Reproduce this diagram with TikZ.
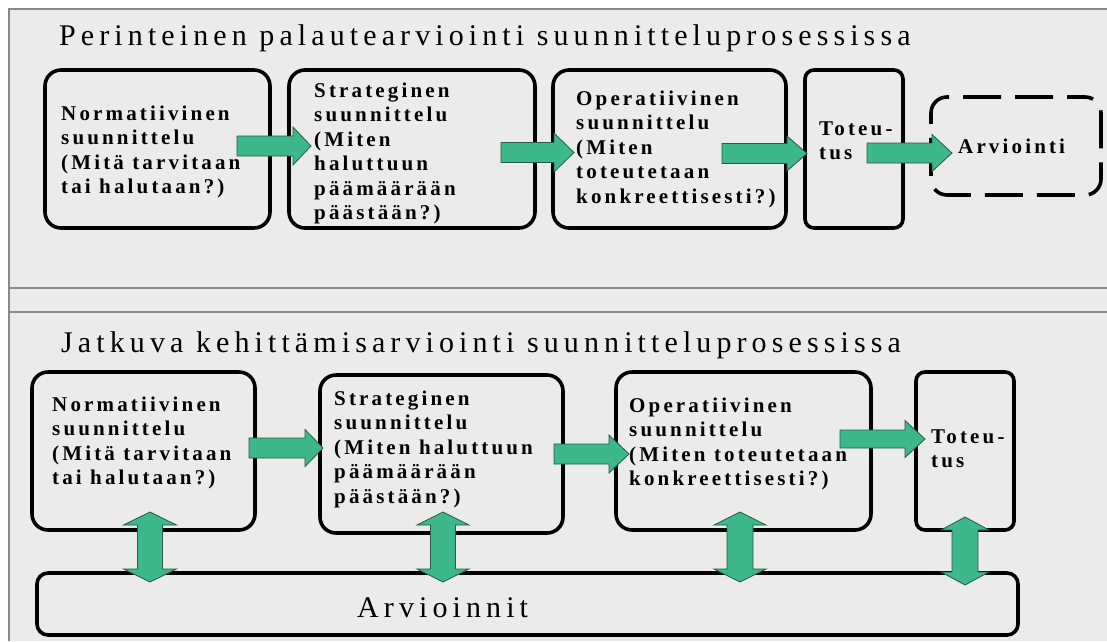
\documentclass[tikz,border=0pt]{standalone}
\usepackage{fontspec}
\setmainfont{Liberation Serif}
\newfontfamily\headfont[LetterSpace=17]{Liberation Serif}
\newfontfamily\stepfont[LetterSpace=15]{Liberation Serif}
\usetikzlibrary{calc}

\definecolor{panelgray}{RGB}{235,235,235}
\definecolor{framegray}{RGB}{138,138,138}
\definecolor{arrowgreen}{RGB}{60,184,138}
\definecolor{arrowedge}{RGB}{40,90,70}

% left-aligned block of lines whose reference point is the first baseline
\newcommand\textlines[1]{\begin{tabular}[t]{@{}l@{}}#1\end{tabular}}

% horizontal block arrow: tail x, tip x, centre y, shaft half, head half, head length
\newcommand\blockarrowH[6]{%
  \filldraw[arrowstyle] (#1,{#3-#4}) -- ({#2-#6},{#3-#4}) -- ({#2-#6},{#3-#5})
    -- (#2,#3) -- ({#2-#6},{#3+#5}) -- ({#2-#6},{#3+#4}) -- (#1,{#3+#4}) -- cycle;}

% vertical double block arrow: centre x, top y, bottom y, shaft half, head half, head length
\newcommand\blockarrowV[6]{%
  \filldraw[arrowstyle] (#1,#2) -- ({#1+#5},{#2+#6}) -- ({#1+#4},{#2+#6})
    -- ({#1+#4},{#3-#6}) -- ({#1+#5},{#3-#6}) -- (#1,#3) -- ({#1-#5},{#3-#6})
    -- ({#1-#4},{#3-#6}) -- ({#1-#4},{#2+#6}) -- ({#1-#5},{#2+#6}) -- cycle;}

\tikzset{
  arrowstyle/.style={fill=arrowgreen, draw=arrowedge, line width=0.8pt, line join=miter},
  stepbox/.style={draw=black, line width=3.6pt, rounded corners=16pt, inner sep=0pt},
  narrowbox/.style={stepbox, rounded corners=9pt},
  evalbox/.style={stepbox, rounded corners=11pt},
  dashbox/.style={stepbox, dash pattern=on 38pt off 14pt, dash phase=20pt},
  steptext/.style={anchor=base west, inner sep=0pt,
    font=\stepfont\bfseries\fontsize{21}{24.5}\selectfont},
  headtext/.style={anchor=base west, inner sep=0pt,
    font=\headfont\fontsize{30}{36}\selectfont}
}

\begin{document}
\begin{tikzpicture}[x=1pt, y=-1pt]
\useasboundingbox (0,0) rectangle (1107,641);

% background panels and their frame lines
\fill[panelgray] (9,9) rectangle (1107,641);
\draw[framegray, line width=1.6pt] (1107,9) -- (9,9) -- (9,641);
\draw[framegray, line width=1.6pt] (9,288) -- (1107,288);
\draw[framegray, line width=1.6pt] (9,312) -- (1107,312);

% ---------- upper panel ----------
\node[headtext] (titleA) at (59,45) {Perinteinen palautearviointi suunnitteluprosessissa};

\node[stepbox, minimum width=225pt, minimum height=158pt] (a1) at (157.5,149) {};
\node[stepbox, minimum width=246pt, minimum height=158pt] (a2) at (412,149) {};
\node[stepbox, minimum width=233pt, minimum height=158pt] (a3) at (669.5,149) {};
\node[narrowbox, minimum width=98pt, minimum height=158pt] (a4) at (854,149) {};
\node[dashbox, minimum width=170pt, minimum height=98pt] (a5) at (1016,146) {};

\node[steptext] (ta1) at (61,120) {\textlines{Normatiivinen\\suunnittelu\\(Mitä tarvitaan\\tai halutaan?)}};
\node[steptext] (ta2) at (314,97) {\textlines{Strateginen\\suunnittelu\\(Miten\\haluttuun\\päämäärään\\päästään?)}};
\node[steptext] (ta3) at (576,105) {\textlines{Operatiivinen\\suunnittelu\\(Miten\\toteutetaan\\konkreettisesti?)}};
\node[steptext] (ta4) at (819,135) {\textlines{Toteu-\\tus}};
\node[steptext] (ta5) at (958,153) {Arviointi};

\blockarrowH{237}{311}{146}{10}{19}{18}
\blockarrowH{501}{574}{152.5}{10}{19.5}{20}
\blockarrowH{722}{807}{153.5}{10}{17.5}{20}
\blockarrowH{867}{952}{153}{10}{18.5}{20}

% ---------- lower panel ----------
\node[headtext] (titleB) at (61,352) {Jatkuva kehittämisarviointi suunnitteluprosessissa};

\node[stepbox, minimum width=223pt, minimum height=158pt] (b1) at (143.5,451) {};
\node[stepbox, minimum width=243pt, minimum height=158pt] (b2) at (441.5,454) {};
\node[stepbox, minimum width=255pt, minimum height=158pt] (b3) at (743.5,451) {};
\node[narrowbox, minimum width=98pt, minimum height=158pt] (b4) at (965,451) {};
\node[evalbox, minimum width=981pt, minimum height=62pt] (b5) at (527.5,604) {};

\node[steptext] (tb1) at (52,411) {\textlines{Normatiivinen\\suunnittelu\\(Mitä tarvitaan\\tai halutaan?)}};
\node[steptext] (tb2) at (334,405) {\textlines{Strateginen\\suunnittelu\\(Miten haluttuun\\päämäärään\\päästään?)}};
\node[steptext] (tb3) at (629,412) {\textlines{Operatiivinen\\suunnittelu\\(Miten toteutetaan\\konkreettisesti?)}};
\node[steptext] (tb4) at (931,443) {\textlines{Toteu-\\tus}};
\node[headtext] (tb5) at (357,617) {Arvioinnit};

\blockarrowH{249}{323}{448}{10}{18.5}{18}
\blockarrowH{554}{629}{454}{10}{19}{20}
\blockarrowH{840}{925}{439}{9}{18.5}{20}

\blockarrowV{150}{512}{582}{12.5}{26.5}{13}
\blockarrowV{443}{512}{582}{12.5}{26}{13}
\blockarrowV{740}{512}{582}{13}{26}{13}
\blockarrowV{965}{517}{585}{13}{24}{13}
\end{tikzpicture}
\end{document}
